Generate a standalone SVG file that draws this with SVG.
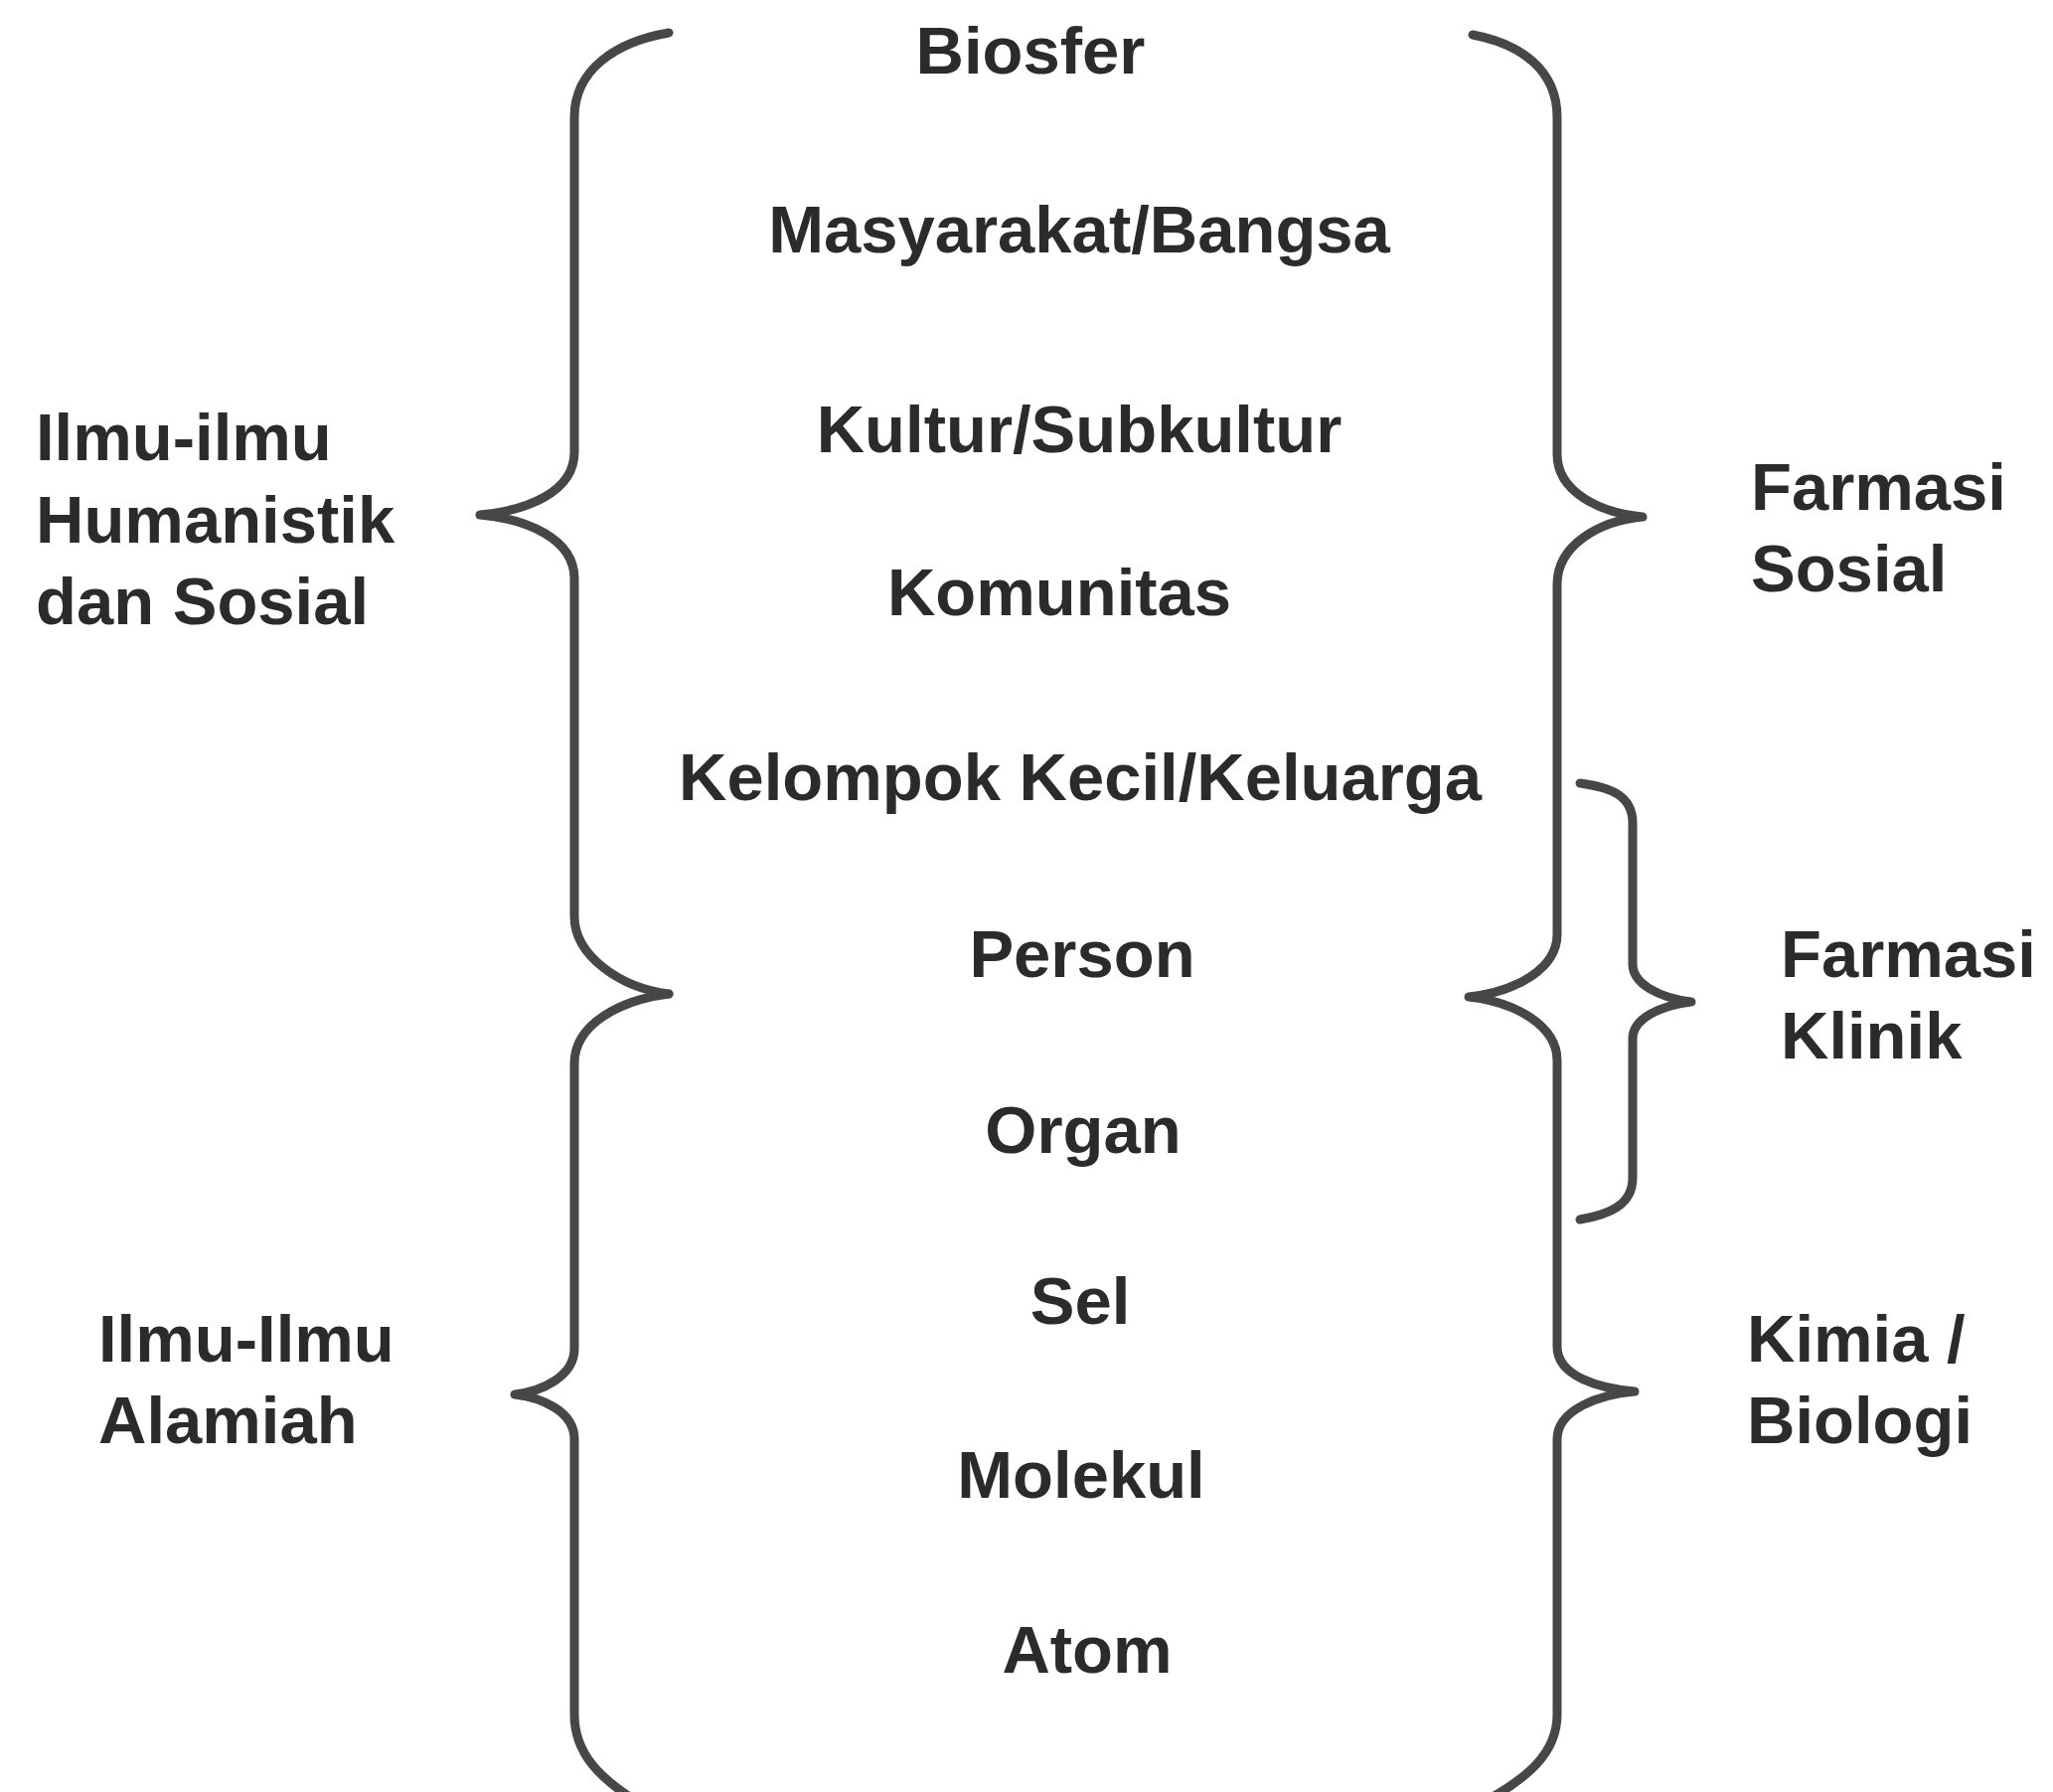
<svg xmlns="http://www.w3.org/2000/svg" width="2066" height="1803" viewBox="0 0 2066 1803">
<style>
.t{font-family:"Liberation Sans",Arial,sans-serif;font-weight:bold;font-size:67px;fill:#2b2b2b}
.c{text-anchor:middle}
.b{fill:none;stroke:#474747;stroke-width:9;stroke-linejoin:round;stroke-linecap:round}
</style>
<rect width="2066" height="1803" fill="#ffffff"/>
<g id="levels">
<g id="n-biosfer"><text class="t c" x="1037" y="74">Biosfer</text></g>
<g id="n-masyarakat"><text class="t c" x="1086" y="254">Masyarakat/Bangsa</text></g>
<g id="n-kultur"><text class="t c" x="1086" y="455">Kultur/Subkultur</text></g>
<g id="n-komunitas"><text class="t c" x="1066" y="619">Komunitas</text></g>
<g id="n-kelompok"><text class="t c" x="1087" y="805">Kelompok Kecil/Keluarga</text></g>
<g id="n-person"><text class="t c" x="1089" y="983">Person</text></g>
<g id="n-organ"><text class="t c" x="1090" y="1160">Organ</text></g>
<g id="n-sel"><text class="t c" x="1087" y="1332">Sel</text></g>
<g id="n-molekul"><text class="t c" x="1088" y="1507">Molekul</text></g>
<g id="n-atom"><text class="t c" x="1094" y="1683">Atom</text></g>
</g>
<g id="n-humanistik"><text class="t" x="36" y="463">Ilmu-ilmu</text><text class="t" x="36" y="546">Humanistik</text><text class="t" x="36" y="628">dan Sosial</text></g>
<g id="n-alamiah"><text class="t" x="99" y="1370">Ilmu-Ilmu</text><text class="t" x="99" y="1452">Alamiah</text></g>
<g id="n-farmasi-sosial"><text class="t" x="1762" y="513">Farmasi</text><text class="t" x="1762" y="595">Sosial</text></g>
<g id="n-farmasi-klinik"><text class="t" x="1792" y="983">Farmasi</text><text class="t" x="1792" y="1065">Klinik</text></g>
<g id="n-kimia"><text class="t" x="1758" y="1370">Kimia /</text><text class="t" x="1758" y="1452">Biologi</text></g>
<g id="connectors">
<path class="b" d="M673,33 C620,42 578,70 578,118 L578,455 C578,495 530,514 483,518 C530,522 578,542 578,582 L578,922 C578,962 625,994 673,1000"/>
<path class="b" d="M673,1000 C625,1006 578,1030 578,1070 L578,1357 C578,1385 545,1400 518,1403 C545,1406 578,1420 578,1448 L578,1725 C578,1765 605,1790 640,1812"/>
<path class="b" d="M1482,35 C1530,44 1567,70 1567,118 L1567,457 C1567,495 1610,516 1653,520 C1610,524 1567,548 1567,588 L1567,940 C1567,975 1525,998 1478,1003 C1525,1008 1567,1032 1567,1067 L1567,1355 C1567,1385 1610,1397 1645,1400 C1610,1403 1567,1418 1567,1448 L1567,1725 C1567,1765 1535,1790 1495,1812"/>
<path class="b" d="M1590,788 C1620,792 1643,800 1643,828 L1643,970 C1643,990 1670,1004 1702,1008 C1670,1012 1643,1025 1643,1045 L1643,1185 C1643,1212 1620,1222 1590,1227"/>
</g>
</svg>
